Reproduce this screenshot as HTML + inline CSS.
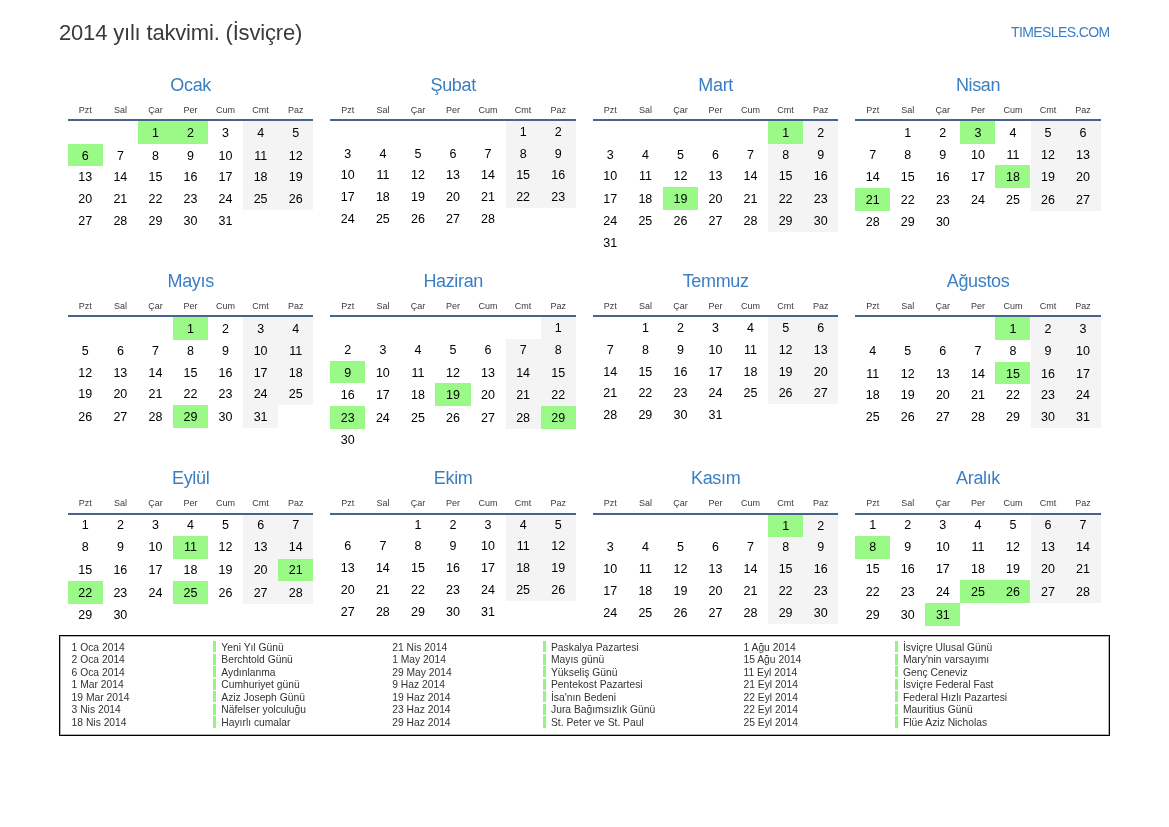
<!DOCTYPE html>
<html><head><meta charset="utf-8"><title>2014 yılı takvimi</title><style>
*{margin:0;padding:0;box-sizing:border-box}
html,body{width:1169px;height:827px;background:#fff;overflow:hidden}
body{position:relative;font-family:"Liberation Sans",sans-serif}
#w{position:absolute;left:0;top:0;width:1169px;height:827px;will-change:transform}
.a{position:absolute;white-space:nowrap}
.t{left:59px;top:0px;font-size:22px;color:#3a3a3a;line-height:1;letter-spacing:-0.18px}
.site{font-size:14px;color:#3a7fc4;line-height:1;letter-spacing:-0.6px}
.mn{font-size:18px;color:#3a7fc4;width:245.4px;text-align:center;line-height:1;letter-spacing:-0.35px;padding-left:0.35px}
.dn{font-size:9px;color:#3a3a3a;width:35.06px;text-align:center;line-height:1}
.d{font-size:12.5px;color:#000;width:35.06px;text-align:center;line-height:1}
.ln{height:2px;width:245.4px;background:#46648c;z-index:2}
.g{background:#f4f4f4;width:35.06px}
.h{background:#9bfa87;width:35.06px}
.lg{font-size:10.3px;color:#333;line-height:1}
.bar{width:2.6px;background:#95f581}
</style></head><body><div id="w">
<div class="a t" style="top:22.38px">2014 yılı takvimi. (İsviçre)</div>
<div class="a site" style="right:59.4px;top:25.05px">TIMESLES.COM</div>
<div class="a mn" style="left:67.80px;top:75.56px">Ocak</div>
<div class="a dn" style="left:67.80px;top:105.88px">Pzt</div>
<div class="a dn" style="left:102.86px;top:105.88px">Sal</div>
<div class="a dn" style="left:137.92px;top:105.88px">Çar</div>
<div class="a dn" style="left:172.98px;top:105.88px">Per</div>
<div class="a dn" style="left:208.04px;top:105.88px">Cum</div>
<div class="a dn" style="left:243.10px;top:105.88px">Cmt</div>
<div class="a dn" style="left:278.16px;top:105.88px">Paz</div>
<div class="a ln" style="left:67.80px;top:118.90px"></div>
<div class="a h" style="left:137.92px;top:120.90px;height:22.75px"></div>
<div class="a d" style="left:137.92px;top:126.82px">1</div>
<div class="a h" style="left:172.98px;top:120.90px;height:22.75px"></div>
<div class="a d" style="left:172.98px;top:126.82px">2</div>
<div class="a d" style="left:208.04px;top:126.82px">3</div>
<div class="a g" style="left:243.10px;top:120.90px;height:22.75px"></div>
<div class="a d" style="left:243.10px;top:126.82px">4</div>
<div class="a g" style="left:278.16px;top:120.90px;height:22.75px"></div>
<div class="a d" style="left:278.16px;top:126.82px">5</div>
<div class="a h" style="left:67.80px;top:143.65px;height:22.75px"></div>
<div class="a d" style="left:67.80px;top:149.57px">6</div>
<div class="a d" style="left:102.86px;top:149.57px">7</div>
<div class="a d" style="left:137.92px;top:149.57px">8</div>
<div class="a d" style="left:172.98px;top:149.57px">9</div>
<div class="a d" style="left:208.04px;top:149.57px">10</div>
<div class="a g" style="left:243.10px;top:143.65px;height:22.75px"></div>
<div class="a d" style="left:243.10px;top:149.57px">11</div>
<div class="a g" style="left:278.16px;top:143.65px;height:22.75px"></div>
<div class="a d" style="left:278.16px;top:149.57px">12</div>
<div class="a d" style="left:67.80px;top:171.32px">13</div>
<div class="a d" style="left:102.86px;top:171.32px">14</div>
<div class="a d" style="left:137.92px;top:171.32px">15</div>
<div class="a d" style="left:172.98px;top:171.32px">16</div>
<div class="a d" style="left:208.04px;top:171.32px">17</div>
<div class="a g" style="left:243.10px;top:166.40px;height:21.75px"></div>
<div class="a d" style="left:243.10px;top:171.32px">18</div>
<div class="a g" style="left:278.16px;top:166.40px;height:21.75px"></div>
<div class="a d" style="left:278.16px;top:171.32px">19</div>
<div class="a d" style="left:67.80px;top:193.07px">20</div>
<div class="a d" style="left:102.86px;top:193.07px">21</div>
<div class="a d" style="left:137.92px;top:193.07px">22</div>
<div class="a d" style="left:172.98px;top:193.07px">23</div>
<div class="a d" style="left:208.04px;top:193.07px">24</div>
<div class="a g" style="left:243.10px;top:188.15px;height:21.75px"></div>
<div class="a d" style="left:243.10px;top:193.07px">25</div>
<div class="a g" style="left:278.16px;top:188.15px;height:21.75px"></div>
<div class="a d" style="left:278.16px;top:193.07px">26</div>
<div class="a d" style="left:67.80px;top:214.82px">27</div>
<div class="a d" style="left:102.86px;top:214.82px">28</div>
<div class="a d" style="left:137.92px;top:214.82px">29</div>
<div class="a d" style="left:172.98px;top:214.82px">30</div>
<div class="a d" style="left:208.04px;top:214.82px">31</div>
<div class="a mn" style="left:330.30px;top:75.56px">Şubat</div>
<div class="a dn" style="left:330.30px;top:105.88px">Pzt</div>
<div class="a dn" style="left:365.36px;top:105.88px">Sal</div>
<div class="a dn" style="left:400.42px;top:105.88px">Çar</div>
<div class="a dn" style="left:435.48px;top:105.88px">Per</div>
<div class="a dn" style="left:470.54px;top:105.88px">Cum</div>
<div class="a dn" style="left:505.60px;top:105.88px">Cmt</div>
<div class="a dn" style="left:540.66px;top:105.88px">Paz</div>
<div class="a ln" style="left:330.30px;top:118.90px"></div>
<div class="a g" style="left:505.60px;top:120.90px;height:21.75px"></div>
<div class="a d" style="left:505.60px;top:125.82px">1</div>
<div class="a g" style="left:540.66px;top:120.90px;height:21.75px"></div>
<div class="a d" style="left:540.66px;top:125.82px">2</div>
<div class="a d" style="left:330.30px;top:147.57px">3</div>
<div class="a d" style="left:365.36px;top:147.57px">4</div>
<div class="a d" style="left:400.42px;top:147.57px">5</div>
<div class="a d" style="left:435.48px;top:147.57px">6</div>
<div class="a d" style="left:470.54px;top:147.57px">7</div>
<div class="a g" style="left:505.60px;top:142.65px;height:21.75px"></div>
<div class="a d" style="left:505.60px;top:147.57px">8</div>
<div class="a g" style="left:540.66px;top:142.65px;height:21.75px"></div>
<div class="a d" style="left:540.66px;top:147.57px">9</div>
<div class="a d" style="left:330.30px;top:169.32px">10</div>
<div class="a d" style="left:365.36px;top:169.32px">11</div>
<div class="a d" style="left:400.42px;top:169.32px">12</div>
<div class="a d" style="left:435.48px;top:169.32px">13</div>
<div class="a d" style="left:470.54px;top:169.32px">14</div>
<div class="a g" style="left:505.60px;top:164.40px;height:21.75px"></div>
<div class="a d" style="left:505.60px;top:169.32px">15</div>
<div class="a g" style="left:540.66px;top:164.40px;height:21.75px"></div>
<div class="a d" style="left:540.66px;top:169.32px">16</div>
<div class="a d" style="left:330.30px;top:191.07px">17</div>
<div class="a d" style="left:365.36px;top:191.07px">18</div>
<div class="a d" style="left:400.42px;top:191.07px">19</div>
<div class="a d" style="left:435.48px;top:191.07px">20</div>
<div class="a d" style="left:470.54px;top:191.07px">21</div>
<div class="a g" style="left:505.60px;top:186.15px;height:21.75px"></div>
<div class="a d" style="left:505.60px;top:191.07px">22</div>
<div class="a g" style="left:540.66px;top:186.15px;height:21.75px"></div>
<div class="a d" style="left:540.66px;top:191.07px">23</div>
<div class="a d" style="left:330.30px;top:212.82px">24</div>
<div class="a d" style="left:365.36px;top:212.82px">25</div>
<div class="a d" style="left:400.42px;top:212.82px">26</div>
<div class="a d" style="left:435.48px;top:212.82px">27</div>
<div class="a d" style="left:470.54px;top:212.82px">28</div>
<div class="a mn" style="left:592.80px;top:75.56px">Mart</div>
<div class="a dn" style="left:592.80px;top:105.88px">Pzt</div>
<div class="a dn" style="left:627.86px;top:105.88px">Sal</div>
<div class="a dn" style="left:662.92px;top:105.88px">Çar</div>
<div class="a dn" style="left:697.98px;top:105.88px">Per</div>
<div class="a dn" style="left:733.04px;top:105.88px">Cum</div>
<div class="a dn" style="left:768.10px;top:105.88px">Cmt</div>
<div class="a dn" style="left:803.16px;top:105.88px">Paz</div>
<div class="a ln" style="left:592.80px;top:118.90px"></div>
<div class="a h" style="left:768.10px;top:120.90px;height:22.75px"></div>
<div class="a d" style="left:768.10px;top:126.82px">1</div>
<div class="a g" style="left:803.16px;top:120.90px;height:22.75px"></div>
<div class="a d" style="left:803.16px;top:126.82px">2</div>
<div class="a d" style="left:592.80px;top:148.57px">3</div>
<div class="a d" style="left:627.86px;top:148.57px">4</div>
<div class="a d" style="left:662.92px;top:148.57px">5</div>
<div class="a d" style="left:697.98px;top:148.57px">6</div>
<div class="a d" style="left:733.04px;top:148.57px">7</div>
<div class="a g" style="left:768.10px;top:143.65px;height:21.75px"></div>
<div class="a d" style="left:768.10px;top:148.57px">8</div>
<div class="a g" style="left:803.16px;top:143.65px;height:21.75px"></div>
<div class="a d" style="left:803.16px;top:148.57px">9</div>
<div class="a d" style="left:592.80px;top:170.32px">10</div>
<div class="a d" style="left:627.86px;top:170.32px">11</div>
<div class="a d" style="left:662.92px;top:170.32px">12</div>
<div class="a d" style="left:697.98px;top:170.32px">13</div>
<div class="a d" style="left:733.04px;top:170.32px">14</div>
<div class="a g" style="left:768.10px;top:165.40px;height:21.75px"></div>
<div class="a d" style="left:768.10px;top:170.32px">15</div>
<div class="a g" style="left:803.16px;top:165.40px;height:21.75px"></div>
<div class="a d" style="left:803.16px;top:170.32px">16</div>
<div class="a d" style="left:592.80px;top:193.07px">17</div>
<div class="a d" style="left:627.86px;top:193.07px">18</div>
<div class="a h" style="left:662.92px;top:187.15px;height:22.75px"></div>
<div class="a d" style="left:662.92px;top:193.07px">19</div>
<div class="a d" style="left:697.98px;top:193.07px">20</div>
<div class="a d" style="left:733.04px;top:193.07px">21</div>
<div class="a g" style="left:768.10px;top:187.15px;height:22.75px"></div>
<div class="a d" style="left:768.10px;top:193.07px">22</div>
<div class="a g" style="left:803.16px;top:187.15px;height:22.75px"></div>
<div class="a d" style="left:803.16px;top:193.07px">23</div>
<div class="a d" style="left:592.80px;top:214.82px">24</div>
<div class="a d" style="left:627.86px;top:214.82px">25</div>
<div class="a d" style="left:662.92px;top:214.82px">26</div>
<div class="a d" style="left:697.98px;top:214.82px">27</div>
<div class="a d" style="left:733.04px;top:214.82px">28</div>
<div class="a g" style="left:768.10px;top:209.90px;height:21.75px"></div>
<div class="a d" style="left:768.10px;top:214.82px">29</div>
<div class="a g" style="left:803.16px;top:209.90px;height:21.75px"></div>
<div class="a d" style="left:803.16px;top:214.82px">30</div>
<div class="a d" style="left:592.80px;top:236.57px">31</div>
<div class="a mn" style="left:855.20px;top:75.56px">Nisan</div>
<div class="a dn" style="left:855.20px;top:105.88px">Pzt</div>
<div class="a dn" style="left:890.26px;top:105.88px">Sal</div>
<div class="a dn" style="left:925.32px;top:105.88px">Çar</div>
<div class="a dn" style="left:960.38px;top:105.88px">Per</div>
<div class="a dn" style="left:995.44px;top:105.88px">Cum</div>
<div class="a dn" style="left:1030.50px;top:105.88px">Cmt</div>
<div class="a dn" style="left:1065.56px;top:105.88px">Paz</div>
<div class="a ln" style="left:855.20px;top:118.90px"></div>
<div class="a d" style="left:890.26px;top:126.82px">1</div>
<div class="a d" style="left:925.32px;top:126.82px">2</div>
<div class="a h" style="left:960.38px;top:120.90px;height:22.75px"></div>
<div class="a d" style="left:960.38px;top:126.82px">3</div>
<div class="a d" style="left:995.44px;top:126.82px">4</div>
<div class="a g" style="left:1030.50px;top:120.90px;height:22.75px"></div>
<div class="a d" style="left:1030.50px;top:126.82px">5</div>
<div class="a g" style="left:1065.56px;top:120.90px;height:22.75px"></div>
<div class="a d" style="left:1065.56px;top:126.82px">6</div>
<div class="a d" style="left:855.20px;top:148.57px">7</div>
<div class="a d" style="left:890.26px;top:148.57px">8</div>
<div class="a d" style="left:925.32px;top:148.57px">9</div>
<div class="a d" style="left:960.38px;top:148.57px">10</div>
<div class="a d" style="left:995.44px;top:148.57px">11</div>
<div class="a g" style="left:1030.50px;top:143.65px;height:21.75px"></div>
<div class="a d" style="left:1030.50px;top:148.57px">12</div>
<div class="a g" style="left:1065.56px;top:143.65px;height:21.75px"></div>
<div class="a d" style="left:1065.56px;top:148.57px">13</div>
<div class="a d" style="left:855.20px;top:171.32px">14</div>
<div class="a d" style="left:890.26px;top:171.32px">15</div>
<div class="a d" style="left:925.32px;top:171.32px">16</div>
<div class="a d" style="left:960.38px;top:171.32px">17</div>
<div class="a h" style="left:995.44px;top:165.40px;height:22.75px"></div>
<div class="a d" style="left:995.44px;top:171.32px">18</div>
<div class="a g" style="left:1030.50px;top:165.40px;height:22.75px"></div>
<div class="a d" style="left:1030.50px;top:171.32px">19</div>
<div class="a g" style="left:1065.56px;top:165.40px;height:22.75px"></div>
<div class="a d" style="left:1065.56px;top:171.32px">20</div>
<div class="a h" style="left:855.20px;top:188.15px;height:22.75px"></div>
<div class="a d" style="left:855.20px;top:194.07px">21</div>
<div class="a d" style="left:890.26px;top:194.07px">22</div>
<div class="a d" style="left:925.32px;top:194.07px">23</div>
<div class="a d" style="left:960.38px;top:194.07px">24</div>
<div class="a d" style="left:995.44px;top:194.07px">25</div>
<div class="a g" style="left:1030.50px;top:188.15px;height:22.75px"></div>
<div class="a d" style="left:1030.50px;top:194.07px">26</div>
<div class="a g" style="left:1065.56px;top:188.15px;height:22.75px"></div>
<div class="a d" style="left:1065.56px;top:194.07px">27</div>
<div class="a d" style="left:855.20px;top:215.82px">28</div>
<div class="a d" style="left:890.26px;top:215.82px">29</div>
<div class="a d" style="left:925.32px;top:215.82px">30</div>
<div class="a mn" style="left:67.80px;top:271.76px">Mayıs</div>
<div class="a dn" style="left:67.80px;top:302.08px">Pzt</div>
<div class="a dn" style="left:102.86px;top:302.08px">Sal</div>
<div class="a dn" style="left:137.92px;top:302.08px">Çar</div>
<div class="a dn" style="left:172.98px;top:302.08px">Per</div>
<div class="a dn" style="left:208.04px;top:302.08px">Cum</div>
<div class="a dn" style="left:243.10px;top:302.08px">Cmt</div>
<div class="a dn" style="left:278.16px;top:302.08px">Paz</div>
<div class="a ln" style="left:67.80px;top:315.10px"></div>
<div class="a h" style="left:172.98px;top:317.10px;height:22.75px"></div>
<div class="a d" style="left:172.98px;top:323.02px">1</div>
<div class="a d" style="left:208.04px;top:323.02px">2</div>
<div class="a g" style="left:243.10px;top:317.10px;height:22.75px"></div>
<div class="a d" style="left:243.10px;top:323.02px">3</div>
<div class="a g" style="left:278.16px;top:317.10px;height:22.75px"></div>
<div class="a d" style="left:278.16px;top:323.02px">4</div>
<div class="a d" style="left:67.80px;top:344.77px">5</div>
<div class="a d" style="left:102.86px;top:344.77px">6</div>
<div class="a d" style="left:137.92px;top:344.77px">7</div>
<div class="a d" style="left:172.98px;top:344.77px">8</div>
<div class="a d" style="left:208.04px;top:344.77px">9</div>
<div class="a g" style="left:243.10px;top:339.85px;height:21.75px"></div>
<div class="a d" style="left:243.10px;top:344.77px">10</div>
<div class="a g" style="left:278.16px;top:339.85px;height:21.75px"></div>
<div class="a d" style="left:278.16px;top:344.77px">11</div>
<div class="a d" style="left:67.80px;top:366.52px">12</div>
<div class="a d" style="left:102.86px;top:366.52px">13</div>
<div class="a d" style="left:137.92px;top:366.52px">14</div>
<div class="a d" style="left:172.98px;top:366.52px">15</div>
<div class="a d" style="left:208.04px;top:366.52px">16</div>
<div class="a g" style="left:243.10px;top:361.60px;height:21.75px"></div>
<div class="a d" style="left:243.10px;top:366.52px">17</div>
<div class="a g" style="left:278.16px;top:361.60px;height:21.75px"></div>
<div class="a d" style="left:278.16px;top:366.52px">18</div>
<div class="a d" style="left:67.80px;top:388.27px">19</div>
<div class="a d" style="left:102.86px;top:388.27px">20</div>
<div class="a d" style="left:137.92px;top:388.27px">21</div>
<div class="a d" style="left:172.98px;top:388.27px">22</div>
<div class="a d" style="left:208.04px;top:388.27px">23</div>
<div class="a g" style="left:243.10px;top:383.35px;height:21.75px"></div>
<div class="a d" style="left:243.10px;top:388.27px">24</div>
<div class="a g" style="left:278.16px;top:383.35px;height:21.75px"></div>
<div class="a d" style="left:278.16px;top:388.27px">25</div>
<div class="a d" style="left:67.80px;top:411.02px">26</div>
<div class="a d" style="left:102.86px;top:411.02px">27</div>
<div class="a d" style="left:137.92px;top:411.02px">28</div>
<div class="a h" style="left:172.98px;top:405.10px;height:22.75px"></div>
<div class="a d" style="left:172.98px;top:411.02px">29</div>
<div class="a d" style="left:208.04px;top:411.02px">30</div>
<div class="a g" style="left:243.10px;top:405.10px;height:22.75px"></div>
<div class="a d" style="left:243.10px;top:411.02px">31</div>
<div class="a mn" style="left:330.30px;top:271.76px">Haziran</div>
<div class="a dn" style="left:330.30px;top:302.08px">Pzt</div>
<div class="a dn" style="left:365.36px;top:302.08px">Sal</div>
<div class="a dn" style="left:400.42px;top:302.08px">Çar</div>
<div class="a dn" style="left:435.48px;top:302.08px">Per</div>
<div class="a dn" style="left:470.54px;top:302.08px">Cum</div>
<div class="a dn" style="left:505.60px;top:302.08px">Cmt</div>
<div class="a dn" style="left:540.66px;top:302.08px">Paz</div>
<div class="a ln" style="left:330.30px;top:315.10px"></div>
<div class="a g" style="left:540.66px;top:317.10px;height:21.75px"></div>
<div class="a d" style="left:540.66px;top:322.02px">1</div>
<div class="a d" style="left:330.30px;top:343.77px">2</div>
<div class="a d" style="left:365.36px;top:343.77px">3</div>
<div class="a d" style="left:400.42px;top:343.77px">4</div>
<div class="a d" style="left:435.48px;top:343.77px">5</div>
<div class="a d" style="left:470.54px;top:343.77px">6</div>
<div class="a g" style="left:505.60px;top:338.85px;height:21.75px"></div>
<div class="a d" style="left:505.60px;top:343.77px">7</div>
<div class="a g" style="left:540.66px;top:338.85px;height:21.75px"></div>
<div class="a d" style="left:540.66px;top:343.77px">8</div>
<div class="a h" style="left:330.30px;top:360.60px;height:22.75px"></div>
<div class="a d" style="left:330.30px;top:366.52px">9</div>
<div class="a d" style="left:365.36px;top:366.52px">10</div>
<div class="a d" style="left:400.42px;top:366.52px">11</div>
<div class="a d" style="left:435.48px;top:366.52px">12</div>
<div class="a d" style="left:470.54px;top:366.52px">13</div>
<div class="a g" style="left:505.60px;top:360.60px;height:22.75px"></div>
<div class="a d" style="left:505.60px;top:366.52px">14</div>
<div class="a g" style="left:540.66px;top:360.60px;height:22.75px"></div>
<div class="a d" style="left:540.66px;top:366.52px">15</div>
<div class="a d" style="left:330.30px;top:389.27px">16</div>
<div class="a d" style="left:365.36px;top:389.27px">17</div>
<div class="a d" style="left:400.42px;top:389.27px">18</div>
<div class="a h" style="left:435.48px;top:383.35px;height:22.75px"></div>
<div class="a d" style="left:435.48px;top:389.27px">19</div>
<div class="a d" style="left:470.54px;top:389.27px">20</div>
<div class="a g" style="left:505.60px;top:383.35px;height:22.75px"></div>
<div class="a d" style="left:505.60px;top:389.27px">21</div>
<div class="a g" style="left:540.66px;top:383.35px;height:22.75px"></div>
<div class="a d" style="left:540.66px;top:389.27px">22</div>
<div class="a h" style="left:330.30px;top:406.10px;height:22.75px"></div>
<div class="a d" style="left:330.30px;top:412.02px">23</div>
<div class="a d" style="left:365.36px;top:412.02px">24</div>
<div class="a d" style="left:400.42px;top:412.02px">25</div>
<div class="a d" style="left:435.48px;top:412.02px">26</div>
<div class="a d" style="left:470.54px;top:412.02px">27</div>
<div class="a g" style="left:505.60px;top:406.10px;height:22.75px"></div>
<div class="a d" style="left:505.60px;top:412.02px">28</div>
<div class="a h" style="left:540.66px;top:406.10px;height:22.75px"></div>
<div class="a d" style="left:540.66px;top:412.02px">29</div>
<div class="a d" style="left:330.30px;top:433.77px">30</div>
<div class="a mn" style="left:592.80px;top:271.76px">Temmuz</div>
<div class="a dn" style="left:592.80px;top:302.08px">Pzt</div>
<div class="a dn" style="left:627.86px;top:302.08px">Sal</div>
<div class="a dn" style="left:662.92px;top:302.08px">Çar</div>
<div class="a dn" style="left:697.98px;top:302.08px">Per</div>
<div class="a dn" style="left:733.04px;top:302.08px">Cum</div>
<div class="a dn" style="left:768.10px;top:302.08px">Cmt</div>
<div class="a dn" style="left:803.16px;top:302.08px">Paz</div>
<div class="a ln" style="left:592.80px;top:315.10px"></div>
<div class="a d" style="left:627.86px;top:322.02px">1</div>
<div class="a d" style="left:662.92px;top:322.02px">2</div>
<div class="a d" style="left:697.98px;top:322.02px">3</div>
<div class="a d" style="left:733.04px;top:322.02px">4</div>
<div class="a g" style="left:768.10px;top:317.10px;height:21.75px"></div>
<div class="a d" style="left:768.10px;top:322.02px">5</div>
<div class="a g" style="left:803.16px;top:317.10px;height:21.75px"></div>
<div class="a d" style="left:803.16px;top:322.02px">6</div>
<div class="a d" style="left:592.80px;top:343.77px">7</div>
<div class="a d" style="left:627.86px;top:343.77px">8</div>
<div class="a d" style="left:662.92px;top:343.77px">9</div>
<div class="a d" style="left:697.98px;top:343.77px">10</div>
<div class="a d" style="left:733.04px;top:343.77px">11</div>
<div class="a g" style="left:768.10px;top:338.85px;height:21.75px"></div>
<div class="a d" style="left:768.10px;top:343.77px">12</div>
<div class="a g" style="left:803.16px;top:338.85px;height:21.75px"></div>
<div class="a d" style="left:803.16px;top:343.77px">13</div>
<div class="a d" style="left:592.80px;top:365.52px">14</div>
<div class="a d" style="left:627.86px;top:365.52px">15</div>
<div class="a d" style="left:662.92px;top:365.52px">16</div>
<div class="a d" style="left:697.98px;top:365.52px">17</div>
<div class="a d" style="left:733.04px;top:365.52px">18</div>
<div class="a g" style="left:768.10px;top:360.60px;height:21.75px"></div>
<div class="a d" style="left:768.10px;top:365.52px">19</div>
<div class="a g" style="left:803.16px;top:360.60px;height:21.75px"></div>
<div class="a d" style="left:803.16px;top:365.52px">20</div>
<div class="a d" style="left:592.80px;top:387.27px">21</div>
<div class="a d" style="left:627.86px;top:387.27px">22</div>
<div class="a d" style="left:662.92px;top:387.27px">23</div>
<div class="a d" style="left:697.98px;top:387.27px">24</div>
<div class="a d" style="left:733.04px;top:387.27px">25</div>
<div class="a g" style="left:768.10px;top:382.35px;height:21.75px"></div>
<div class="a d" style="left:768.10px;top:387.27px">26</div>
<div class="a g" style="left:803.16px;top:382.35px;height:21.75px"></div>
<div class="a d" style="left:803.16px;top:387.27px">27</div>
<div class="a d" style="left:592.80px;top:409.02px">28</div>
<div class="a d" style="left:627.86px;top:409.02px">29</div>
<div class="a d" style="left:662.92px;top:409.02px">30</div>
<div class="a d" style="left:697.98px;top:409.02px">31</div>
<div class="a mn" style="left:855.20px;top:271.76px">Ağustos</div>
<div class="a dn" style="left:855.20px;top:302.08px">Pzt</div>
<div class="a dn" style="left:890.26px;top:302.08px">Sal</div>
<div class="a dn" style="left:925.32px;top:302.08px">Çar</div>
<div class="a dn" style="left:960.38px;top:302.08px">Per</div>
<div class="a dn" style="left:995.44px;top:302.08px">Cum</div>
<div class="a dn" style="left:1030.50px;top:302.08px">Cmt</div>
<div class="a dn" style="left:1065.56px;top:302.08px">Paz</div>
<div class="a ln" style="left:855.20px;top:315.10px"></div>
<div class="a h" style="left:995.44px;top:317.10px;height:22.75px"></div>
<div class="a d" style="left:995.44px;top:323.02px">1</div>
<div class="a g" style="left:1030.50px;top:317.10px;height:22.75px"></div>
<div class="a d" style="left:1030.50px;top:323.02px">2</div>
<div class="a g" style="left:1065.56px;top:317.10px;height:22.75px"></div>
<div class="a d" style="left:1065.56px;top:323.02px">3</div>
<div class="a d" style="left:855.20px;top:344.77px">4</div>
<div class="a d" style="left:890.26px;top:344.77px">5</div>
<div class="a d" style="left:925.32px;top:344.77px">6</div>
<div class="a d" style="left:960.38px;top:344.77px">7</div>
<div class="a d" style="left:995.44px;top:344.77px">8</div>
<div class="a g" style="left:1030.50px;top:339.85px;height:21.75px"></div>
<div class="a d" style="left:1030.50px;top:344.77px">9</div>
<div class="a g" style="left:1065.56px;top:339.85px;height:21.75px"></div>
<div class="a d" style="left:1065.56px;top:344.77px">10</div>
<div class="a d" style="left:855.20px;top:367.52px">11</div>
<div class="a d" style="left:890.26px;top:367.52px">12</div>
<div class="a d" style="left:925.32px;top:367.52px">13</div>
<div class="a d" style="left:960.38px;top:367.52px">14</div>
<div class="a h" style="left:995.44px;top:361.60px;height:22.75px"></div>
<div class="a d" style="left:995.44px;top:367.52px">15</div>
<div class="a g" style="left:1030.50px;top:361.60px;height:22.75px"></div>
<div class="a d" style="left:1030.50px;top:367.52px">16</div>
<div class="a g" style="left:1065.56px;top:361.60px;height:22.75px"></div>
<div class="a d" style="left:1065.56px;top:367.52px">17</div>
<div class="a d" style="left:855.20px;top:389.27px">18</div>
<div class="a d" style="left:890.26px;top:389.27px">19</div>
<div class="a d" style="left:925.32px;top:389.27px">20</div>
<div class="a d" style="left:960.38px;top:389.27px">21</div>
<div class="a d" style="left:995.44px;top:389.27px">22</div>
<div class="a g" style="left:1030.50px;top:384.35px;height:21.75px"></div>
<div class="a d" style="left:1030.50px;top:389.27px">23</div>
<div class="a g" style="left:1065.56px;top:384.35px;height:21.75px"></div>
<div class="a d" style="left:1065.56px;top:389.27px">24</div>
<div class="a d" style="left:855.20px;top:411.02px">25</div>
<div class="a d" style="left:890.26px;top:411.02px">26</div>
<div class="a d" style="left:925.32px;top:411.02px">27</div>
<div class="a d" style="left:960.38px;top:411.02px">28</div>
<div class="a d" style="left:995.44px;top:411.02px">29</div>
<div class="a g" style="left:1030.50px;top:406.10px;height:21.75px"></div>
<div class="a d" style="left:1030.50px;top:411.02px">30</div>
<div class="a g" style="left:1065.56px;top:406.10px;height:21.75px"></div>
<div class="a d" style="left:1065.56px;top:411.02px">31</div>
<div class="a mn" style="left:67.80px;top:469.16px">Eylül</div>
<div class="a dn" style="left:67.80px;top:499.48px">Pzt</div>
<div class="a dn" style="left:102.86px;top:499.48px">Sal</div>
<div class="a dn" style="left:137.92px;top:499.48px">Çar</div>
<div class="a dn" style="left:172.98px;top:499.48px">Per</div>
<div class="a dn" style="left:208.04px;top:499.48px">Cum</div>
<div class="a dn" style="left:243.10px;top:499.48px">Cmt</div>
<div class="a dn" style="left:278.16px;top:499.48px">Paz</div>
<div class="a ln" style="left:67.80px;top:512.50px"></div>
<div class="a d" style="left:67.80px;top:518.62px">1</div>
<div class="a d" style="left:102.86px;top:518.62px">2</div>
<div class="a d" style="left:137.92px;top:518.62px">3</div>
<div class="a d" style="left:172.98px;top:518.62px">4</div>
<div class="a d" style="left:208.04px;top:518.62px">5</div>
<div class="a g" style="left:243.10px;top:514.00px;height:21.75px"></div>
<div class="a d" style="left:243.10px;top:518.62px">6</div>
<div class="a g" style="left:278.16px;top:514.00px;height:21.75px"></div>
<div class="a d" style="left:278.16px;top:518.62px">7</div>
<div class="a d" style="left:67.80px;top:541.37px">8</div>
<div class="a d" style="left:102.86px;top:541.37px">9</div>
<div class="a d" style="left:137.92px;top:541.37px">10</div>
<div class="a h" style="left:172.98px;top:535.75px;height:22.75px"></div>
<div class="a d" style="left:172.98px;top:541.37px">11</div>
<div class="a d" style="left:208.04px;top:541.37px">12</div>
<div class="a g" style="left:243.10px;top:535.75px;height:22.75px"></div>
<div class="a d" style="left:243.10px;top:541.37px">13</div>
<div class="a g" style="left:278.16px;top:535.75px;height:22.75px"></div>
<div class="a d" style="left:278.16px;top:541.37px">14</div>
<div class="a d" style="left:67.80px;top:564.12px">15</div>
<div class="a d" style="left:102.86px;top:564.12px">16</div>
<div class="a d" style="left:137.92px;top:564.12px">17</div>
<div class="a d" style="left:172.98px;top:564.12px">18</div>
<div class="a d" style="left:208.04px;top:564.12px">19</div>
<div class="a g" style="left:243.10px;top:558.50px;height:22.75px"></div>
<div class="a d" style="left:243.10px;top:564.12px">20</div>
<div class="a h" style="left:278.16px;top:558.50px;height:22.75px"></div>
<div class="a d" style="left:278.16px;top:564.12px">21</div>
<div class="a h" style="left:67.80px;top:581.25px;height:22.75px"></div>
<div class="a d" style="left:67.80px;top:586.87px">22</div>
<div class="a d" style="left:102.86px;top:586.87px">23</div>
<div class="a d" style="left:137.92px;top:586.87px">24</div>
<div class="a h" style="left:172.98px;top:581.25px;height:22.75px"></div>
<div class="a d" style="left:172.98px;top:586.87px">25</div>
<div class="a d" style="left:208.04px;top:586.87px">26</div>
<div class="a g" style="left:243.10px;top:581.25px;height:22.75px"></div>
<div class="a d" style="left:243.10px;top:586.87px">27</div>
<div class="a g" style="left:278.16px;top:581.25px;height:22.75px"></div>
<div class="a d" style="left:278.16px;top:586.87px">28</div>
<div class="a d" style="left:67.80px;top:608.62px">29</div>
<div class="a d" style="left:102.86px;top:608.62px">30</div>
<div class="a mn" style="left:330.30px;top:469.16px">Ekim</div>
<div class="a dn" style="left:330.30px;top:499.48px">Pzt</div>
<div class="a dn" style="left:365.36px;top:499.48px">Sal</div>
<div class="a dn" style="left:400.42px;top:499.48px">Çar</div>
<div class="a dn" style="left:435.48px;top:499.48px">Per</div>
<div class="a dn" style="left:470.54px;top:499.48px">Cum</div>
<div class="a dn" style="left:505.60px;top:499.48px">Cmt</div>
<div class="a dn" style="left:540.66px;top:499.48px">Paz</div>
<div class="a ln" style="left:330.30px;top:512.50px"></div>
<div class="a d" style="left:400.42px;top:518.62px">1</div>
<div class="a d" style="left:435.48px;top:518.62px">2</div>
<div class="a d" style="left:470.54px;top:518.62px">3</div>
<div class="a g" style="left:505.60px;top:514.00px;height:21.75px"></div>
<div class="a d" style="left:505.60px;top:518.62px">4</div>
<div class="a g" style="left:540.66px;top:514.00px;height:21.75px"></div>
<div class="a d" style="left:540.66px;top:518.62px">5</div>
<div class="a d" style="left:330.30px;top:540.37px">6</div>
<div class="a d" style="left:365.36px;top:540.37px">7</div>
<div class="a d" style="left:400.42px;top:540.37px">8</div>
<div class="a d" style="left:435.48px;top:540.37px">9</div>
<div class="a d" style="left:470.54px;top:540.37px">10</div>
<div class="a g" style="left:505.60px;top:535.75px;height:21.75px"></div>
<div class="a d" style="left:505.60px;top:540.37px">11</div>
<div class="a g" style="left:540.66px;top:535.75px;height:21.75px"></div>
<div class="a d" style="left:540.66px;top:540.37px">12</div>
<div class="a d" style="left:330.30px;top:562.12px">13</div>
<div class="a d" style="left:365.36px;top:562.12px">14</div>
<div class="a d" style="left:400.42px;top:562.12px">15</div>
<div class="a d" style="left:435.48px;top:562.12px">16</div>
<div class="a d" style="left:470.54px;top:562.12px">17</div>
<div class="a g" style="left:505.60px;top:557.50px;height:21.75px"></div>
<div class="a d" style="left:505.60px;top:562.12px">18</div>
<div class="a g" style="left:540.66px;top:557.50px;height:21.75px"></div>
<div class="a d" style="left:540.66px;top:562.12px">19</div>
<div class="a d" style="left:330.30px;top:583.87px">20</div>
<div class="a d" style="left:365.36px;top:583.87px">21</div>
<div class="a d" style="left:400.42px;top:583.87px">22</div>
<div class="a d" style="left:435.48px;top:583.87px">23</div>
<div class="a d" style="left:470.54px;top:583.87px">24</div>
<div class="a g" style="left:505.60px;top:579.25px;height:21.75px"></div>
<div class="a d" style="left:505.60px;top:583.87px">25</div>
<div class="a g" style="left:540.66px;top:579.25px;height:21.75px"></div>
<div class="a d" style="left:540.66px;top:583.87px">26</div>
<div class="a d" style="left:330.30px;top:605.62px">27</div>
<div class="a d" style="left:365.36px;top:605.62px">28</div>
<div class="a d" style="left:400.42px;top:605.62px">29</div>
<div class="a d" style="left:435.48px;top:605.62px">30</div>
<div class="a d" style="left:470.54px;top:605.62px">31</div>
<div class="a mn" style="left:592.80px;top:469.16px">Kasım</div>
<div class="a dn" style="left:592.80px;top:499.48px">Pzt</div>
<div class="a dn" style="left:627.86px;top:499.48px">Sal</div>
<div class="a dn" style="left:662.92px;top:499.48px">Çar</div>
<div class="a dn" style="left:697.98px;top:499.48px">Per</div>
<div class="a dn" style="left:733.04px;top:499.48px">Cum</div>
<div class="a dn" style="left:768.10px;top:499.48px">Cmt</div>
<div class="a dn" style="left:803.16px;top:499.48px">Paz</div>
<div class="a ln" style="left:592.80px;top:512.50px"></div>
<div class="a h" style="left:768.10px;top:514.00px;height:22.75px"></div>
<div class="a d" style="left:768.10px;top:519.62px">1</div>
<div class="a g" style="left:803.16px;top:514.00px;height:22.75px"></div>
<div class="a d" style="left:803.16px;top:519.62px">2</div>
<div class="a d" style="left:592.80px;top:541.37px">3</div>
<div class="a d" style="left:627.86px;top:541.37px">4</div>
<div class="a d" style="left:662.92px;top:541.37px">5</div>
<div class="a d" style="left:697.98px;top:541.37px">6</div>
<div class="a d" style="left:733.04px;top:541.37px">7</div>
<div class="a g" style="left:768.10px;top:536.75px;height:21.75px"></div>
<div class="a d" style="left:768.10px;top:541.37px">8</div>
<div class="a g" style="left:803.16px;top:536.75px;height:21.75px"></div>
<div class="a d" style="left:803.16px;top:541.37px">9</div>
<div class="a d" style="left:592.80px;top:563.12px">10</div>
<div class="a d" style="left:627.86px;top:563.12px">11</div>
<div class="a d" style="left:662.92px;top:563.12px">12</div>
<div class="a d" style="left:697.98px;top:563.12px">13</div>
<div class="a d" style="left:733.04px;top:563.12px">14</div>
<div class="a g" style="left:768.10px;top:558.50px;height:21.75px"></div>
<div class="a d" style="left:768.10px;top:563.12px">15</div>
<div class="a g" style="left:803.16px;top:558.50px;height:21.75px"></div>
<div class="a d" style="left:803.16px;top:563.12px">16</div>
<div class="a d" style="left:592.80px;top:584.87px">17</div>
<div class="a d" style="left:627.86px;top:584.87px">18</div>
<div class="a d" style="left:662.92px;top:584.87px">19</div>
<div class="a d" style="left:697.98px;top:584.87px">20</div>
<div class="a d" style="left:733.04px;top:584.87px">21</div>
<div class="a g" style="left:768.10px;top:580.25px;height:21.75px"></div>
<div class="a d" style="left:768.10px;top:584.87px">22</div>
<div class="a g" style="left:803.16px;top:580.25px;height:21.75px"></div>
<div class="a d" style="left:803.16px;top:584.87px">23</div>
<div class="a d" style="left:592.80px;top:606.62px">24</div>
<div class="a d" style="left:627.86px;top:606.62px">25</div>
<div class="a d" style="left:662.92px;top:606.62px">26</div>
<div class="a d" style="left:697.98px;top:606.62px">27</div>
<div class="a d" style="left:733.04px;top:606.62px">28</div>
<div class="a g" style="left:768.10px;top:602.00px;height:21.75px"></div>
<div class="a d" style="left:768.10px;top:606.62px">29</div>
<div class="a g" style="left:803.16px;top:602.00px;height:21.75px"></div>
<div class="a d" style="left:803.16px;top:606.62px">30</div>
<div class="a mn" style="left:855.20px;top:469.16px">Aralık</div>
<div class="a dn" style="left:855.20px;top:499.48px">Pzt</div>
<div class="a dn" style="left:890.26px;top:499.48px">Sal</div>
<div class="a dn" style="left:925.32px;top:499.48px">Çar</div>
<div class="a dn" style="left:960.38px;top:499.48px">Per</div>
<div class="a dn" style="left:995.44px;top:499.48px">Cum</div>
<div class="a dn" style="left:1030.50px;top:499.48px">Cmt</div>
<div class="a dn" style="left:1065.56px;top:499.48px">Paz</div>
<div class="a ln" style="left:855.20px;top:512.50px"></div>
<div class="a d" style="left:855.20px;top:518.62px">1</div>
<div class="a d" style="left:890.26px;top:518.62px">2</div>
<div class="a d" style="left:925.32px;top:518.62px">3</div>
<div class="a d" style="left:960.38px;top:518.62px">4</div>
<div class="a d" style="left:995.44px;top:518.62px">5</div>
<div class="a g" style="left:1030.50px;top:514.00px;height:21.75px"></div>
<div class="a d" style="left:1030.50px;top:518.62px">6</div>
<div class="a g" style="left:1065.56px;top:514.00px;height:21.75px"></div>
<div class="a d" style="left:1065.56px;top:518.62px">7</div>
<div class="a h" style="left:855.20px;top:535.75px;height:22.75px"></div>
<div class="a d" style="left:855.20px;top:541.37px">8</div>
<div class="a d" style="left:890.26px;top:541.37px">9</div>
<div class="a d" style="left:925.32px;top:541.37px">10</div>
<div class="a d" style="left:960.38px;top:541.37px">11</div>
<div class="a d" style="left:995.44px;top:541.37px">12</div>
<div class="a g" style="left:1030.50px;top:535.75px;height:22.75px"></div>
<div class="a d" style="left:1030.50px;top:541.37px">13</div>
<div class="a g" style="left:1065.56px;top:535.75px;height:22.75px"></div>
<div class="a d" style="left:1065.56px;top:541.37px">14</div>
<div class="a d" style="left:855.20px;top:563.12px">15</div>
<div class="a d" style="left:890.26px;top:563.12px">16</div>
<div class="a d" style="left:925.32px;top:563.12px">17</div>
<div class="a d" style="left:960.38px;top:563.12px">18</div>
<div class="a d" style="left:995.44px;top:563.12px">19</div>
<div class="a g" style="left:1030.50px;top:558.50px;height:21.75px"></div>
<div class="a d" style="left:1030.50px;top:563.12px">20</div>
<div class="a g" style="left:1065.56px;top:558.50px;height:21.75px"></div>
<div class="a d" style="left:1065.56px;top:563.12px">21</div>
<div class="a d" style="left:855.20px;top:585.87px">22</div>
<div class="a d" style="left:890.26px;top:585.87px">23</div>
<div class="a d" style="left:925.32px;top:585.87px">24</div>
<div class="a h" style="left:960.38px;top:580.25px;height:22.75px"></div>
<div class="a d" style="left:960.38px;top:585.87px">25</div>
<div class="a h" style="left:995.44px;top:580.25px;height:22.75px"></div>
<div class="a d" style="left:995.44px;top:585.87px">26</div>
<div class="a g" style="left:1030.50px;top:580.25px;height:22.75px"></div>
<div class="a d" style="left:1030.50px;top:585.87px">27</div>
<div class="a g" style="left:1065.56px;top:580.25px;height:22.75px"></div>
<div class="a d" style="left:1065.56px;top:585.87px">28</div>
<div class="a d" style="left:855.20px;top:608.62px">29</div>
<div class="a d" style="left:890.26px;top:608.62px">30</div>
<div class="a h" style="left:925.32px;top:603.00px;height:22.75px"></div>
<div class="a d" style="left:925.32px;top:608.62px">31</div>
<div class="a" style="left:59px;top:634.6px;width:1051.4px;height:101.2px;border:1px solid #000;box-shadow:inset 0 0 0 1px rgba(0,0,0,.3)"></div>
<div class="a lg" style="left:71.60px;top:642.78px">1 Oca 2014</div>
<div class="a bar" style="left:213.30px;top:641.20px;height:11.2px"></div>
<div class="a lg" style="left:221.30px;top:642.78px">Yeni Yıl Günü</div>
<div class="a lg" style="left:71.60px;top:655.30px">2 Oca 2014</div>
<div class="a bar" style="left:213.30px;top:653.72px;height:11.2px"></div>
<div class="a lg" style="left:221.30px;top:655.30px">Berchtold Günü</div>
<div class="a lg" style="left:71.60px;top:667.82px">6 Oca 2014</div>
<div class="a bar" style="left:213.30px;top:666.24px;height:11.2px"></div>
<div class="a lg" style="left:221.30px;top:667.82px">Aydınlanma</div>
<div class="a lg" style="left:71.60px;top:680.34px">1 Mar 2014</div>
<div class="a bar" style="left:213.30px;top:678.76px;height:11.2px"></div>
<div class="a lg" style="left:221.30px;top:680.34px">Cumhuriyet günü</div>
<div class="a lg" style="left:71.60px;top:692.86px">19 Mar 2014</div>
<div class="a bar" style="left:213.30px;top:691.28px;height:11.2px"></div>
<div class="a lg" style="left:221.30px;top:692.86px">Aziz Joseph Günü</div>
<div class="a lg" style="left:71.60px;top:705.38px">3 Nis 2014</div>
<div class="a bar" style="left:213.30px;top:703.80px;height:11.2px"></div>
<div class="a lg" style="left:221.30px;top:705.38px">Näfelser yolculuğu</div>
<div class="a lg" style="left:71.60px;top:717.90px">18 Nis 2014</div>
<div class="a bar" style="left:213.30px;top:716.32px;height:11.2px"></div>
<div class="a lg" style="left:221.30px;top:717.90px">Hayırlı cumalar</div>
<div class="a lg" style="left:392.20px;top:642.78px">21 Nis 2014</div>
<div class="a bar" style="left:543.40px;top:641.20px;height:11.2px"></div>
<div class="a lg" style="left:551.00px;top:642.78px">Paskalya Pazartesi</div>
<div class="a lg" style="left:392.20px;top:655.30px">1 May 2014</div>
<div class="a bar" style="left:543.40px;top:653.72px;height:11.2px"></div>
<div class="a lg" style="left:551.00px;top:655.30px">Mayıs günü</div>
<div class="a lg" style="left:392.20px;top:667.82px">29 May 2014</div>
<div class="a bar" style="left:543.40px;top:666.24px;height:11.2px"></div>
<div class="a lg" style="left:551.00px;top:667.82px">Yükseliş Günü</div>
<div class="a lg" style="left:392.20px;top:680.34px">9 Haz 2014</div>
<div class="a bar" style="left:543.40px;top:678.76px;height:11.2px"></div>
<div class="a lg" style="left:551.00px;top:680.34px">Pentekost Pazartesi</div>
<div class="a lg" style="left:392.20px;top:692.86px">19 Haz 2014</div>
<div class="a bar" style="left:543.40px;top:691.28px;height:11.2px"></div>
<div class="a lg" style="left:551.00px;top:692.86px">İsa'nın Bedeni</div>
<div class="a lg" style="left:392.20px;top:705.38px">23 Haz 2014</div>
<div class="a bar" style="left:543.40px;top:703.80px;height:11.2px"></div>
<div class="a lg" style="left:551.00px;top:705.38px">Jura Bağımsızlık Günü</div>
<div class="a lg" style="left:392.20px;top:717.90px">29 Haz 2014</div>
<div class="a bar" style="left:543.40px;top:716.32px;height:11.2px"></div>
<div class="a lg" style="left:551.00px;top:717.90px">St. Peter ve St. Paul</div>
<div class="a lg" style="left:743.50px;top:642.78px">1 Ağu 2014</div>
<div class="a bar" style="left:895.40px;top:641.20px;height:11.2px"></div>
<div class="a lg" style="left:903.00px;top:642.78px">İsviçre Ulusal Günü</div>
<div class="a lg" style="left:743.50px;top:655.30px">15 Ağu 2014</div>
<div class="a bar" style="left:895.40px;top:653.72px;height:11.2px"></div>
<div class="a lg" style="left:903.00px;top:655.30px">Mary'nin varsayımı</div>
<div class="a lg" style="left:743.50px;top:667.82px">11 Eyl 2014</div>
<div class="a bar" style="left:895.40px;top:666.24px;height:11.2px"></div>
<div class="a lg" style="left:903.00px;top:667.82px">Genç Ceneviz</div>
<div class="a lg" style="left:743.50px;top:680.34px">21 Eyl 2014</div>
<div class="a bar" style="left:895.40px;top:678.76px;height:11.2px"></div>
<div class="a lg" style="left:903.00px;top:680.34px">İsviçre Federal Fast</div>
<div class="a lg" style="left:743.50px;top:692.86px">22 Eyl 2014</div>
<div class="a bar" style="left:895.40px;top:691.28px;height:11.2px"></div>
<div class="a lg" style="left:903.00px;top:692.86px">Federal Hızlı Pazartesi</div>
<div class="a lg" style="left:743.50px;top:705.38px">22 Eyl 2014</div>
<div class="a bar" style="left:895.40px;top:703.80px;height:11.2px"></div>
<div class="a lg" style="left:903.00px;top:705.38px">Mauritius Günü</div>
<div class="a lg" style="left:743.50px;top:717.90px">25 Eyl 2014</div>
<div class="a bar" style="left:895.40px;top:716.32px;height:11.2px"></div>
<div class="a lg" style="left:903.00px;top:717.90px">Flüe Aziz Nicholas</div>
</div></body></html>
